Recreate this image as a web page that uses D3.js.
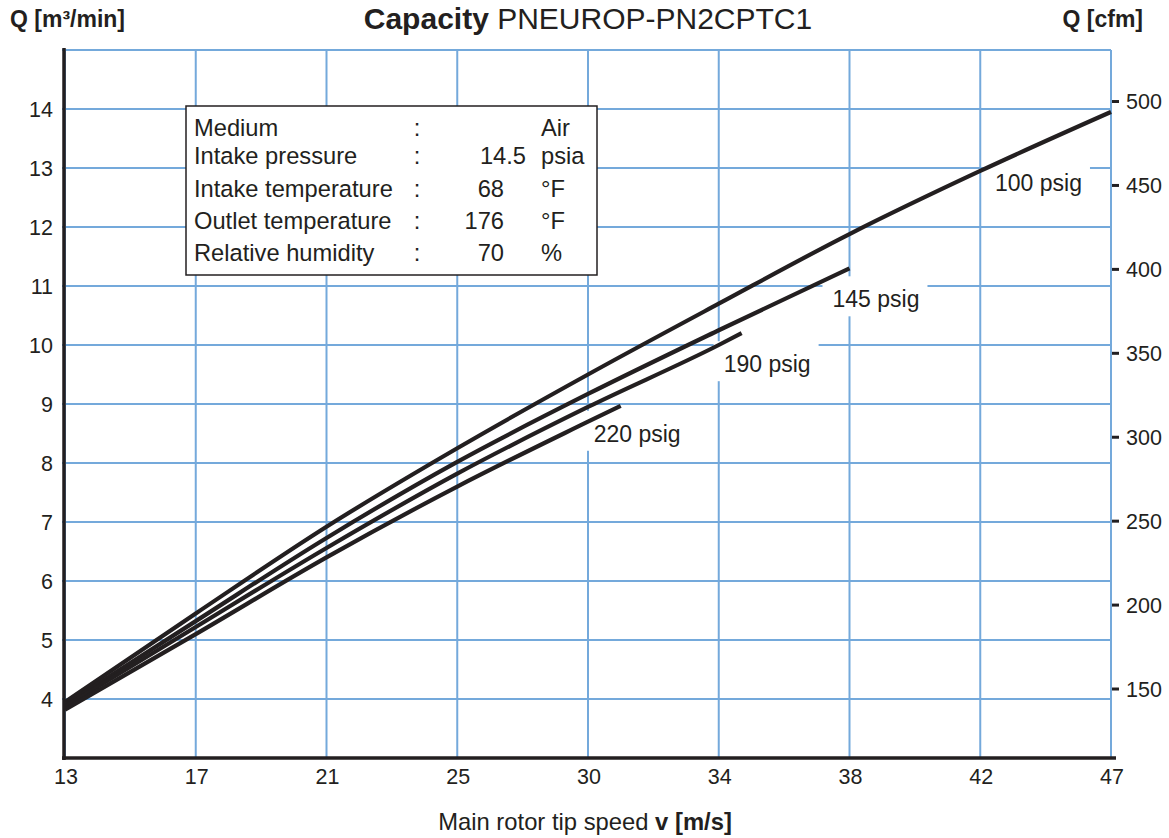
<!DOCTYPE html>
<html>
<head>
<meta charset="utf-8">
<script src="https://cdn.jsdelivr.net/npm/d3@7"></script>
<style>
  body { margin: 0; background: #fff; }
  text { font-family: "Liberation Sans", Arial, sans-serif; fill: #231f20; }
</style>
</head>
<body>
<script>

// tick labels
var speedTicks = [13, 17, 21, 25, 30, 34, 38, 42, 47];
var qTicks = [4, 5, 6, 7, 8, 9, 10, 11, 12, 13, 14];
var cfmTicks = [150, 200, 250, 300, 350, 400, 450, 500];

// curves
var speed100 = [13, 17, 21, 25, 30, 34, 38, 42, 47];
var q100 = [3.95, 5.45, 6.92, 8.25, 9.5, 10.7, 11.88, 12.95, 13.95];
var speed145 = [13, 17, 21, 25, 30, 34, 38];
var q145 = [3.9, 5.32, 6.73, 8.02, 9.17, 10.25, 11.3];
var speed190 = [13, 17, 21, 25, 30, 34, 34.7];
var q190 = [3.87, 5.22, 6.56, 7.82, 8.95, 10.0, 10.2];
var speed220 = [13, 17, 21, 25, 30, 31];
var q220 = [3.82, 5.1, 6.4, 7.6, 8.7, 8.97];
var curveNames = ["100 psig", "145 psig", "190 psig", "220 psig"];

var infoLabels = ["Medium", "Intake pressure", "Intake temperature", "Outlet temperature", "Relative humidity"];
var infoValues = ["", "14.5", "68", "176", "70"];
var infoUnits = ["Air", "psia", "°F", "°F", "%"];

(function () {

    var W = 1169, H = 838;
    var pLeft = 65, pRight = 1111, pTop = 50, pBottom = 758;
    var gridColor = "#74a9db", ink = "#231f20";

    var svg = d3.select("body").append("svg")
        .attr("width", W)
        .attr("height", H);

    // x labels are evenly spaced even though the values are not
    var x = d3.scaleLinear()
        .domain(speedTicks)
        .range(speedTicks.map(function (d, i) { return pLeft + i * (pRight - pLeft) / (speedTicks.length - 1); }));

    var y = d3.scaleLinear().domain([3, 15]).range([pBottom, pTop]);
    var yCfm = d3.scaleLinear().domain([108.9, 530.7]).range([pBottom, pTop]);

    // grid
    svg.append("g").selectAll("line")
        .data(d3.range(3, 16))
        .enter().append("line")
        .attr("x1", pLeft - 3)
        .attr("x2", pRight)
        .attr("y1", function (d) { return y(d); })
        .attr("y2", function (d) { return y(d); })
        .attr("stroke", gridColor)
        .attr("stroke-width", 2);

    svg.append("g").selectAll("line")
        .data(speedTicks)
        .enter().append("line")
        .attr("x1", function (d) { return x(d); })
        .attr("x2", function (d) { return x(d); })
        .attr("y1", pTop)
        .attr("y2", pBottom)
        .attr("stroke", gridColor)
        .attr("stroke-width", 2);

    var line = d3.line()
        .x(function (d) { return x(d[0]); })
        .y(function (d) { return y(d[1]); })
        .curve(d3.curveMonotoneX);

    var curves = [
        d3.zip(speed100, q100),
        d3.zip(speed145, q145),
        d3.zip(speed190, q190),
        d3.zip(speed220, q220)
    ];

    // curve labels with white knock-outs over the grid (offsets from each curve end)
    var labelOffsets = [[-116, 79], [-17, 39], [-18, 39], [-27, 36]];
    var labels = svg.append("g");
    curves.forEach(function (c, i) {
        var end = c[c.length - 1];
        var t = labels.append("text")
            .attr("x", x(end[0]) + labelOffsets[i][0])
            .attr("y", y(end[1]) + labelOffsets[i][1])
            .style("font-size", "23px")
            .text(curveNames[i]);
        var b = t.node().getBBox();
        labels.insert("rect", "text")
            .attr("x", b.x - 10)
            .attr("y", b.y - 10)
            .attr("width", b.width + 18)
            .attr("height", b.height + 14)
            .attr("fill", "#fff");
    });

    svg.append("g").selectAll("path")
        .data(curves)
        .enter().append("path")
        .attr("d", line)
        .attr("fill", "none")
        .attr("stroke", ink)
        .attr("stroke-width", 4.2);

    // axis lines
    svg.append("line")
        .attr("x1", pLeft - 1).attr("x2", pLeft - 1)
        .attr("y1", pTop - 2).attr("y2", pBottom + 2)
        .attr("stroke", ink).attr("stroke-width", 3.5);
    svg.append("line")
        .attr("x1", pLeft - 3).attr("x2", pRight + 5)
        .attr("y1", pBottom).attr("y2", pBottom)
        .attr("stroke", ink).attr("stroke-width", 3.5);

    // left tick labels
    svg.append("g").selectAll("text")
        .data(qTicks)
        .enter().append("text")
        .attr("x", 53)
        .attr("y", function (d) { return y(d); })
        .attr("dy", "0.36em")
        .attr("text-anchor", "end")
        .style("font-size", "21.5px")
        .text(function (d) { return d; });

    // bottom tick labels
    svg.append("g").selectAll("text")
        .data(speedTicks)
        .enter().append("text")
        .attr("x", function (d) { return x(d) + 1; })
        .attr("y", 784)
        .attr("text-anchor", "middle")
        .style("font-size", "21.5px")
        .text(function (d) { return d; });

    // right cfm axis
    var rightAxis = svg.append("g");
    rightAxis.selectAll("line")
        .data(cfmTicks)
        .enter().append("line")
        .attr("x1", pRight + 1)
        .attr("x2", pRight + 8)
        .attr("y1", function (d) { return yCfm(d); })
        .attr("y2", function (d) { return yCfm(d); })
        .attr("stroke", ink)
        .attr("stroke-width", 3);
    rightAxis.selectAll("text")
        .data(cfmTicks)
        .enter().append("text")
        .attr("x", 1126)
        .attr("y", function (d) { return yCfm(d); })
        .attr("dy", "0.36em")
        .style("font-size", "21.5px")
        .text(function (d) { return d; });

    // info box
    var box = svg.append("g");
    box.append("rect")
        .attr("x", 186).attr("y", 106)
        .attr("width", 411).attr("height", 169)
        .attr("fill", "#fff")
        .attr("stroke", ink)
        .attr("stroke-width", 1.5);
    var rowY = [136, 164, 197, 229, 261];
    infoLabels.forEach(function (lab, i) {
        box.append("text").attr("x", 194).attr("y", rowY[i]).style("font-size", "23.7px").text(lab);
        box.append("text").attr("x", 417).attr("y", rowY[i]).attr("text-anchor", "middle").style("font-size", "23.7px").text(":");
        box.append("text").attr("x", infoValues[i].indexOf(".") > 0 ? 526 : 504).attr("y", rowY[i])
            .attr("text-anchor", "end").style("font-size", "23.7px").text(infoValues[i]);
        box.append("text").attr("x", 541).attr("y", rowY[i]).style("font-size", "23.7px").text(infoUnits[i]);
    });

    // titles
    var title = svg.append("text")
        .attr("x", 588)
        .attr("y", 29)
        .attr("text-anchor", "middle")
        .style("font-size", "30px");
    title.append("tspan").style("font-weight", "bold").text("Capacity");
    title.append("tspan").text(" PNEUROP-PN2CPTC1");

    svg.append("text")
        .attr("x", 10).attr("y", 27)
        .style("font-size", "23px").style("font-weight", "bold")
        .text("Q [m³/min]");

    svg.append("text")
        .attr("x", 1143).attr("y", 27)
        .attr("text-anchor", "end")
        .style("font-size", "23px").style("font-weight", "bold")
        .text("Q [cfm]");

    var xTitle = svg.append("text")
        .attr("x", 585)
        .attr("y", 830)
        .attr("text-anchor", "middle")
        .style("font-size", "23.8px");
    xTitle.append("tspan").text("Main rotor tip speed ");
    xTitle.append("tspan").style("font-weight", "bold").text("v [m/s]");

})();

</script>
</body>
</html>
